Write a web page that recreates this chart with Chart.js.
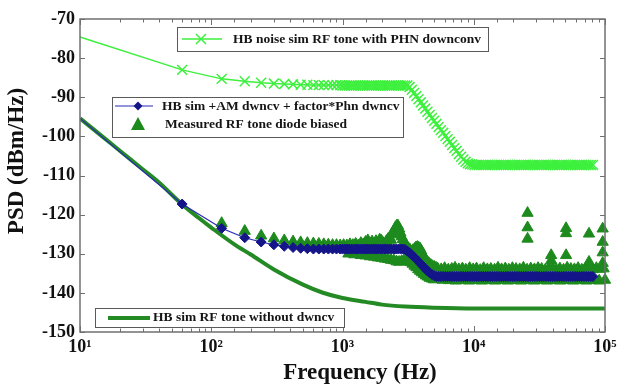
<!DOCTYPE html>
<html>
<head>
<meta charset="utf-8">
<script src="https://cdn.jsdelivr.net/npm/chart.js@4.4.1/dist/chart.umd.min.js"></script>
<style>
  html, body { margin: 0; padding: 0; background: #fff; }
  #wrap { width: 622px; height: 391px; position: relative; }
</style>
</head>
<body>
<div id="wrap"><canvas id="psd"></canvas></div>
<script>
// --- axis ticks ---
const xTickValues = [10, 100, 1000, 10000, 100000];
const xTickLabels = ['10\u00b9', '10\u00b2', '10\u00b3', '10\u2074', '10\u2075'];
const yTickValues = [-150, -140, -130, -120, -110, -100, -90, -80, -70];

// --- simulated sweeps (shared frequency grid, Hz) ---
const simFreq = [10, 60, 120, 180, 240, 300, 360, 420, 480, 540, 600, 660, 720, 780, 840, 900, 960,
  1000, 1040, 1080, 1125, 1170, 1215, 1265, 1315, 1370, 1425, 1480, 1540, 1600, 1665, 1730, 1800, 1875, 1950, 2025, 2105,
  2190, 2280, 2370, 2465, 2565, 2665, 2775, 2885, 3000, 3120, 3245, 3375, 3510, 3650, 3795, 3950, 4105, 4270, 4440, 4620,
  4805, 5000, 5200, 5405, 5620, 5850, 6085, 6325, 6580, 6840, 7115, 7400, 7700, 8005, 8325, 8660, 9005, 9365, 9740, 10130,
  10535, 10955, 11395, 11850, 12325, 12815, 13330, 13865, 14420, 14995, 15595, 16220, 16865, 17540, 18245, 18975, 19730, 20520,
  21340, 22195, 23085, 24005, 24965, 25965, 27005, 28085, 29205, 30375, 31590, 32850, 34165, 35535, 36955, 38435, 39970, 41570,
  43235, 44965, 46760, 48630, 50580, 52600, 54705, 56895, 59170, 61535, 63995, 66555, 69220, 71985, 74865, 77860, 80975, 84215,
  87585, 91085, 94730, 98520, 100000];

// HB noise sim RF tone with PHN downconv
const phnVals = [-74.6, -83.0, -85.3, -85.9, -86.3, -86.5, -86.6, -86.7, -86.8, -86.8, -86.9, -86.9, -86.9, -86.9, -86.9, -86.9, -86.9,
  -87.0, -87.0, -87.0, -87.0, -87.0, -87.0, -87.0, -87.0, -87.0, -87.0, -87.0, -87.0, -87.0, -87.0, -87.0, -87.0, -87.0, -87.0, -87.0, -87.0,
  -87.0, -87.0, -87.0, -87.0, -87.0, -87.0, -87.0, -87.0, -87.0, -87.0, -87.4, -88.1, -88.9, -89.7, -90.5, -91.3, -92.1, -92.9, -93.7, -94.5,
  -95.3, -96.0, -96.8, -97.6, -98.4, -99.1, -99.9, -100.7, -101.4, -102.2, -103.0, -103.7, -104.5, -105.2, -105.9, -106.5, -106.9, -107.1, -107.2, -107.3,
  -107.3, -107.3, -107.3, -107.3, -107.3, -107.3, -107.3, -107.3, -107.3, -107.3, -107.3, -107.3, -107.3, -107.3, -107.3, -107.3,
  -107.3, -107.3, -107.3, -107.3, -107.3, -107.3, -107.3, -107.3, -107.3, -107.3, -107.3, -107.3, -107.3, -107.3, -107.3, -107.3,
  -107.3, -107.3, -107.3, -107.3, -107.3, -107.3, -107.3, -107.3, -107.3, -107.3, -107.3, -107.3, -107.3, -107.3, -107.3, -107.3,
  -107.3, -107.3, -107.3, -107.3, -107.3];

// HB sim +AM dwncv + factor*Phn dwncv
const amPhnVals = [-95.4, -117.3, -123.5, -125.9, -127.0, -127.7, -128.1, -128.4, -128.6, -128.7, -128.8, -128.8, -128.8, -128.8, -128.8, -128.8, -128.8,
  -128.8, -128.8, -128.8, -128.8, -128.8, -128.8, -128.8, -128.8, -128.8, -128.8, -128.8, -128.8, -128.8, -128.8, -128.8, -128.8, -128.8, -128.8, -128.8, -128.8,
  -128.8, -128.8, -128.8, -128.8, -128.8, -128.8, -128.8, -128.8, -128.9, -129.3, -129.8, -130.3, -130.8, -131.4, -132.0, -132.6, -133.2, -133.8, -134.4, -134.9,
  -135.3, -135.6, -135.8, -135.8, -135.8, -135.8, -135.8, -135.8, -135.8, -135.8, -135.8, -135.8, -135.8, -135.8, -135.8, -135.8, -135.8, -135.8, -135.8, -135.8,
  -135.8, -135.8, -135.8, -135.8, -135.8, -135.8, -135.8, -135.8, -135.8, -135.8, -135.8, -135.8, -135.8, -135.8, -135.8, -135.8,
  -135.8, -135.8, -135.8, -135.8, -135.8, -135.8, -135.8, -135.8, -135.8, -135.8, -135.8, -135.8, -135.8, -135.8, -135.8, -135.8,
  -135.8, -135.8, -135.8, -135.8, -135.8, -135.8, -135.8, -135.8, -135.8, -135.8, -135.8, -135.8, -135.8, -135.8, -135.8, -135.8,
  -135.8, -135.8, -135.8, -135.8, -135.8];

// HB sim RF tone without dwncv
const noDwnFreq = [10, 15, 20, 30, 40, 60, 80, 100, 150, 200, 300, 500, 700, 1000, 1500, 2000, 3000, 5000, 10000, 100000];
const noDwnVals = [-95.4, -100.2, -103.6, -108.4, -111.8, -117.4, -120.8, -123.3, -127.6, -130.2, -134.0, -137.9, -139.9, -141.3, -142.3, -143.0, -143.5, -143.8, -144.0, -144.0];

// Measured RF tone diode biased
const measFreq = [120, 180, 240, 300, 360, 420, 480, 540, 600, 660, 720, 780, 840, 900, 960,
  1020, 1080, 1140, 1200, 1260, 1320, 1380, 1440, 1500, 1560, 1620, 1680, 1740, 1800, 1860, 1920, 1980, 2040, 2100, 2160, 2220, 2280,
  2340, 2400, 2460, 2520, 2580, 2640, 2700, 2760, 2820, 2880, 2940, 3000, 3090, 3180, 3270, 3360, 3450, 3540, 3630, 3720, 3810, 3900,
  3990, 4080, 4200, 4320, 4440, 4560, 4710, 4860, 5010, 5160,
  1110, 1230, 1380, 1500, 1620, 1740, 1860, 1980, 2100, 2220, 2340, 2460, 2580, 2700, 2820, 2940, 3060, 3180, 3300, 3420, 3540, 3660,
  3780, 3900, 4020, 4170, 4320, 4470, 4620, 4800, 4980,
  5300, 5650, 6000, 6400, 6800, 7200, 7700, 8200, 8700, 9300, 9900, 10500, 11200, 11900, 12700, 13500, 14400, 15300, 16300, 17400,
  18500, 19700, 21000, 22400, 23900, 25500, 27200, 29000, 30900, 32900, 35100, 37400, 39900, 42500, 45300, 48300, 51500, 54900,
  58500, 62400, 66500, 70900, 75600, 80600, 85900, 91600, 97600,
  5800, 6500, 7300, 8200, 9200, 10300, 11500, 12900, 14500, 16200, 18200, 20400, 22900, 25700, 28800, 32300, 36200, 40600, 45500,
  51000, 57200, 64100, 71900, 80600, 90400, 100000,
  25700, 25700, 25700, 38900, 38900, 50500, 50500, 50500, 75500, 75500, 96000, 96000, 96000, 96000];
const measVals = [-122.2, -124.2, -125.4, -126.1, -126.6, -126.9, -127.1, -127.3, -127.4, -127.5, -127.6, -127.7, -127.8, -127.8, -127.9,
  -127.8, -127.9, -127.6, -127.8, -127.5, -127.9, -127.3, -127.6, -127.0, -126.6, -127.4, -126.9, -127.6, -126.8, -127.2, -126.4, -126.7, -127.3, -127.7, -126.8, -126.3, -125.9,
  -126.5, -125.1, -124.2, -123.4, -122.9, -122.8, -123.6, -124.6, -125.6, -126.3, -127.0, -127.6, -128.1, -128.6, -129.0, -129.4, -129.1, -128.8, -128.4, -128.3, -128.5, -128.7,
  -129.3, -130.2, -130.9, -131.6, -132.1, -132.5, -132.9, -133.2, -133.4, -133.6,
  -130.0, -130.2, -130.4, -130.5, -130.7, -130.8, -131.0, -131.1, -131.3, -131.4, -131.6, -131.7, -132.0, -132.1, -131.9, -131.7, -131.5, -131.8, -132.2, -132.6, -133.1, -133.5,
  -134.0, -134.4, -134.8, -135.2, -135.6, -135.9, -136.2, -136.4, -136.6,
  -133.8, -134.0, -133.7, -134.1, -133.9, -133.6, -134.0, -133.8, -134.1, -133.7, -134.0, -133.8, -134.2, -133.7, -134.0, -133.9, -134.1, -133.6, -134.0, -133.8,
  -134.1, -133.7, -133.9, -134.0, -133.6, -134.1, -133.8, -134.0, -133.7, -133.9, -134.1, -133.8, -133.7, -134.0, -133.8, -134.1, -133.6, -133.9,
  -134.0, -133.7, -134.1, -133.8, -133.9, -134.0, -133.7, -133.9, -133.8,
  -136.7, -136.8, -136.9, -136.8, -136.9, -136.8, -136.9, -136.8, -136.9, -136.8, -136.9, -136.8, -136.9, -136.8, -136.9, -136.8, -136.9, -136.8, -136.9,
  -136.8, -136.9, -136.8, -136.9, -136.8, -136.9, -136.7,
  -119.6, -123.3, -126.2, -130.4, -131.7, -123.5, -124.8, -130.4, -124.9, -132.1, -123.6, -127.0, -129.7, -132.4];

const COL_PHN = '#3df03d';
const COL_BLUE_LINE = '#2a2ab5';
const COL_BLUE_PT = '#15158a';
const COL_MEAS = '#1d8a1d';
const COL_NODWN = '#248a24';
const FONT = '"Liberation Serif", "Times New Roman", serif';

const toXY = (xs, ys) => xs.map((x, i) => ({ x: x, y: ys[i] }));

// frame, inward ticks, axis titles and the three legend boxes
const decorPlugin = {
  id: 'decor',
  afterDatasetsDraw(chart) {
    const { ctx, chartArea: a, scales } = chart;
    const xs = scales.x, ys = scales.y;
    ctx.save();
    ctx.strokeStyle = '#707070';
    ctx.lineWidth = 1.5;
    ctx.strokeRect(a.left, a.top, a.right - a.left, a.bottom - a.top);
    ctx.lineWidth = 1;
    ctx.beginPath();
    ys.ticks.forEach(t => {
      const py = Math.round(ys.getPixelForValue(t.value)) + 0.5;
      ctx.moveTo(a.left, py); ctx.lineTo(a.left + 5, py);
      ctx.moveTo(a.right, py); ctx.lineTo(a.right - 5, py);
    });
    xs.ticks.forEach(t => {
      const px = Math.round(xs.getPixelForValue(t.value)) + 0.5;
      const major = xTickValues.includes(t.value);
      const len = major ? 6 : 3.5;
      ctx.moveTo(px, a.bottom); ctx.lineTo(px, a.bottom - len);
      ctx.moveTo(px, a.top); ctx.lineTo(px, a.top + len);
    });
    ctx.stroke();
    ctx.restore();
  },
  afterDraw(chart) {
    const ctx = chart.ctx;
    ctx.save();
    ctx.fillStyle = '#111';
    ctx.textAlign = 'center';
    ctx.textBaseline = 'middle';
    ctx.font = 'bold 23px ' + FONT;
    ctx.fillText('Frequency (Hz)', 360, 373);
    ctx.save();
    ctx.translate(17, 161);
    ctx.rotate(-Math.PI / 2);
    ctx.fillText('PSD (dBm/Hz)', 0, 0);
    ctx.restore();

    const box = (x, y, w, h) => {
      ctx.fillStyle = '#fff';
      ctx.fillRect(x, y, w, h);
      ctx.strokeStyle = '#5a5a5a';
      ctx.lineWidth = 1;
      ctx.strokeRect(x + 0.5, y + 0.5, w, h);
    };
    const label = (t, x, y) => {
      ctx.fillStyle = '#151515';
      ctx.font = 'bold 13.5px ' + FONT;
      ctx.textAlign = 'left';
      ctx.textBaseline = 'middle';
      ctx.fillText(t, x, y);
    };
    const seg = (x1, x2, y, col, w) => {
      ctx.strokeStyle = col; ctx.lineWidth = w;
      ctx.beginPath(); ctx.moveTo(x1, y); ctx.lineTo(x2, y); ctx.stroke();
    };

    // legend 1
    box(177, 27, 311, 24);
    seg(182, 222, 39, COL_PHN, 1.5);
    ctx.strokeStyle = COL_PHN; ctx.lineWidth = 1.5;
    ctx.beginPath();
    ctx.moveTo(196, 34); ctx.lineTo(206, 44);
    ctx.moveTo(206, 34); ctx.lineTo(196, 44);
    ctx.stroke();
    label(chart.data.datasets[0].label, 233, 40);

    // legend 2
    box(112, 97, 291, 40);
    seg(115, 153, 106, COL_BLUE_LINE, 1.2);
    ctx.fillStyle = COL_BLUE_PT;
    ctx.beginPath();
    ctx.moveTo(138, 101.5); ctx.lineTo(142.5, 106); ctx.lineTo(138, 110.5); ctx.lineTo(133.5, 106);
    ctx.closePath(); ctx.fill();
    label(chart.data.datasets[1].label, 162, 107);
    ctx.fillStyle = COL_MEAS;
    ctx.beginPath();
    ctx.moveTo(138, 117); ctx.lineTo(145, 130); ctx.lineTo(131, 130);
    ctx.closePath(); ctx.fill();
    label(chart.data.datasets[2].label, 165, 125);

    // legend 3
    box(95, 308, 249, 19);
    seg(108, 150, 318, COL_NODWN, 4);
    label(chart.data.datasets[3].label, 153, 318);
    ctx.restore();
  }
};

new Chart(document.getElementById('psd'), {
  type: 'scatter',
  data: {
    datasets: [
      {
        label: 'HB noise sim RF tone with PHN downconv',
        data: toXY(simFreq, phnVals),
        showLine: true,
        borderColor: COL_PHN,
        borderWidth: 1.5,
        pointStyle: 'crossRot',
        pointRadius: ctx => ctx.dataIndex === 0 ? 0 : 7,
        pointBorderColor: COL_PHN,
        pointBorderWidth: 1.5,
        clip: false
      },
      {
        label: 'HB sim +AM dwncv + factor*Phn dwncv',
        data: toXY(simFreq, amPhnVals),
        showLine: true,
        borderColor: COL_BLUE_LINE,
        borderWidth: 1.2,
        pointStyle: 'rectRot',
        pointRadius: ctx => ctx.dataIndex === 0 ? 0 : 5,
        pointBackgroundColor: COL_BLUE_PT,
        pointBorderColor: COL_BLUE_PT,
        pointBorderWidth: 1,
        clip: false
      },
      {
        label: 'Measured RF tone diode biased',
        data: toXY(measFreq, measVals),
        showLine: false,
        pointStyle: 'triangle',
        pointRadius: 6.5,
        pointBackgroundColor: COL_MEAS,
        pointBorderColor: COL_MEAS,
        pointBorderWidth: 1,
        clip: false
      },
      {
        label: 'HB sim RF tone without dwncv',
        data: toXY(noDwnFreq, noDwnVals),
        showLine: true,
        cubicInterpolationMode: 'monotone',
        borderColor: COL_NODWN,
        borderWidth: 4,
        pointRadius: 0
      }
    ]
  },
  options: {
    responsive: true,
    maintainAspectRatio: false,
    animation: false,
    layout: { padding: { top: 19, right: 17, left: 0, bottom: 0 } },
    plugins: {
      legend: { display: false },
      tooltip: { enabled: false }
    },
    scales: {
      x: {
        type: 'logarithmic',
        min: 10,
        max: 100000,
        afterFit: s => { s.height = 59; },
        grid: { drawOnChartArea: false, drawTicks: false },
        border: { display: false },
        ticks: {
          autoSkip: false,
          maxRotation: 0,
          padding: 5,
          color: '#111',
          font: { family: FONT, size: 18, weight: 'bold' },
          callback: v => {
            const i = xTickValues.indexOf(v);
            return i >= 0 ? xTickLabels[i] : '';
          }
        }
      },
      y: {
        min: -150,
        max: -70,
        afterFit: s => { s.width = 80; },
        afterBuildTicks: s => { s.ticks = yTickValues.map(v => ({ value: v })); },
        grid: { drawOnChartArea: false, drawTicks: false },
        border: { display: false },
        ticks: {
          padding: 5,
          color: '#111',
          font: { family: FONT, size: 18, weight: 'bold' }
        }
      }
    }
  },
  plugins: [decorPlugin]
});
</script>
</body>
</html>
